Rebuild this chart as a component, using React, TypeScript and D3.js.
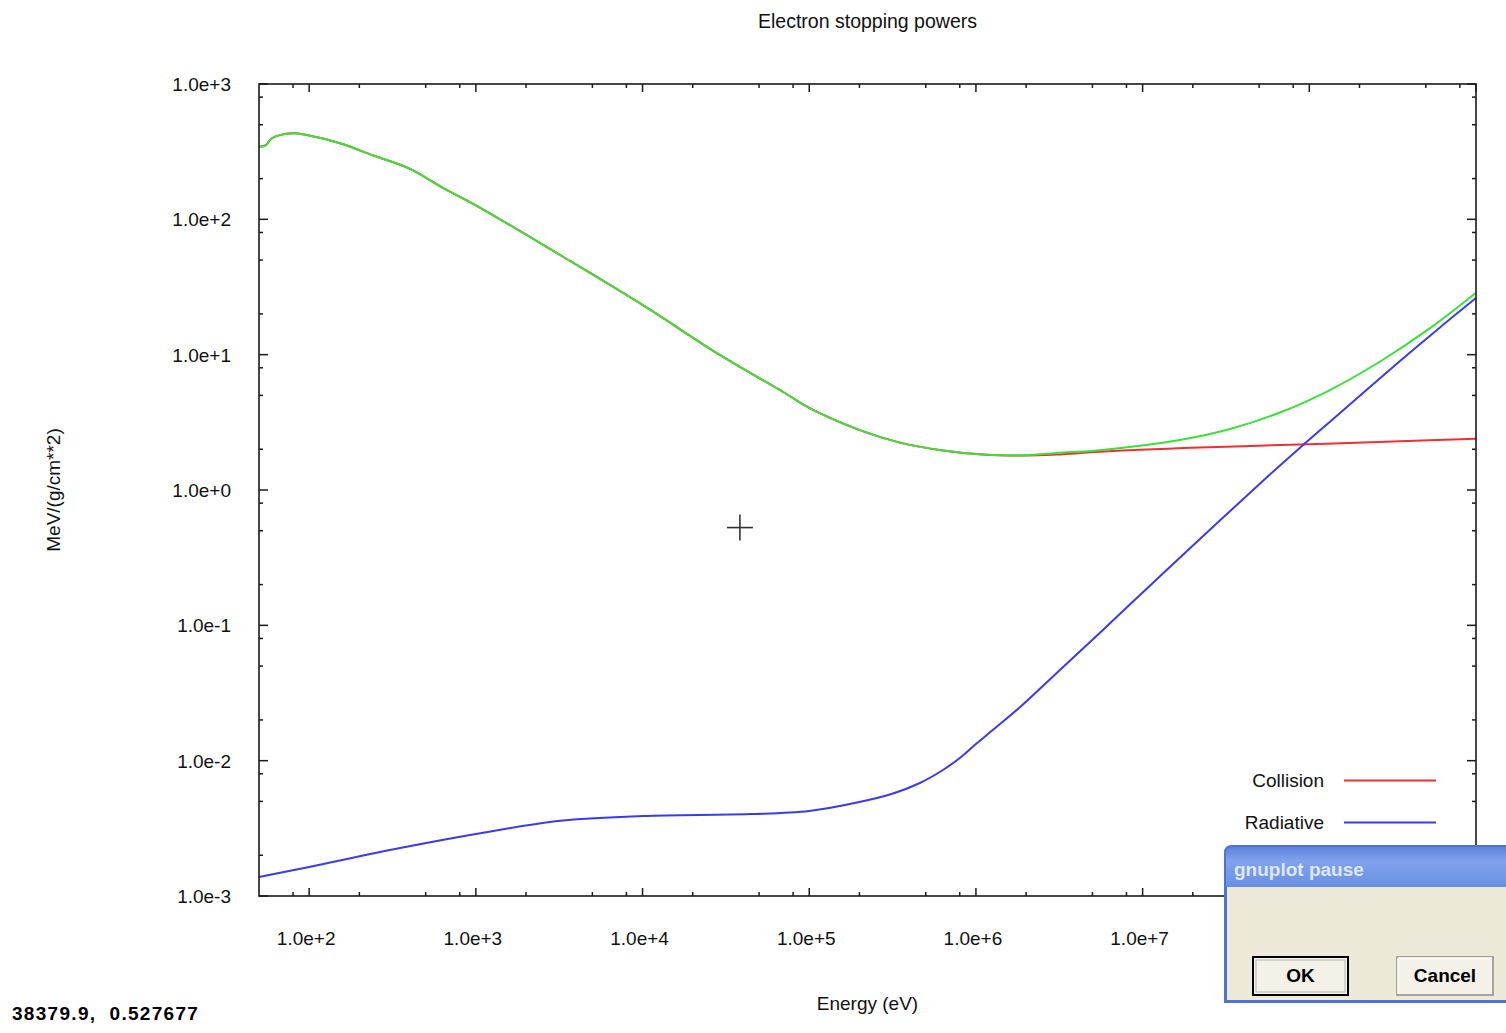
import React from "react";
import * as d3 from "d3";

// values (energy in eV, power in MeV/(g/cm**2))
const totalEnergy = [50, 55.1, 59.6, 80.3, 96.6, 153, 243, 403, 638, 1000, 3200, 1e4, 2.91e4, 7.14e4, 1e5, 2.01e5, 3.5e5, 6.34e5, 1.1e6, 1.84e6, 3.06e6, 5.55e6, 1.67e7, 3.34e7, 6.67e7, 1.33e8, 2.66e8, 5.3e8, 1e9];
const totalPower = [344, 354, 397, 432, 420, 365, 296, 236, 170, 127, 54.5, 23.3, 9.95, 5.21, 4.04, 2.77, 2.24, 1.96, 1.83, 1.8, 1.88, 1.97, 2.34, 2.82, 3.74, 5.48, 8.9, 15.7, 28.7];

const collisionEnergy = [50, 55.1, 59.6, 80.3, 96.6, 153, 243, 403, 638, 1000, 3200, 1e4, 2.91e4, 7.14e4, 1e5, 2.01e5, 3.5e5, 6.34e5, 1.1e6, 1.84e6, 3.06e6, 5.55e6, 2.21e7, 8.79e7, 3.5e8, 1e9];
const collisionPower = [344, 354, 397, 432, 420, 365, 296, 236, 170, 127, 54.5, 23.3, 9.95, 5.21, 4.04, 2.77, 2.24, 1.96, 1.83, 1.8, 1.83, 1.92, 2.06, 2.17, 2.29, 2.39];

const radiativeEnergy = [50, 100, 351, 1000, 3200, 1e4, 4.4e4, 1e5, 2e5, 3.18e5, 4.61e5, 6.34e5, 8e5, 1e6, 1.26e6, 1.84e6, 3.19e6, 5.04e6, 8.05e6, 1.61e7, 5.42e7, 9.03e7, 1.39e8, 3.5e8, 6.08e8, 1e9];
const radiativePower = [1.38e-3, 1.64e-3, 2.26e-3, 2.87e-3, 3.6e-3, 3.9e-3, 4.03e-3, 4.25e-3, 4.95e-3, 5.72e-3, 6.84e-3, 8.53e-3, 0.01047, 0.01327, 0.01683, 0.0249, 0.0468, 0.079, 0.136, 0.303, 1.205, 2.11, 3.35, 8.98, 15.9, 26.2];

const xMajor = [1e2, 1e3, 1e4, 1e5, 1e6, 1e7, 1e8, 1e9];
const xTickLabels = ["1.0e+2", "1.0e+3", "1.0e+4", "1.0e+5", "1.0e+6", "1.0e+7", "1.0e+8", "1.0e+9"];
const yMajor = [1e-3, 1e-2, 1e-1, 1e0, 1e1, 1e2, 1e3];
const yTickLabels = ["1.0e-3", "1.0e-2", "1.0e-1", "1.0e+0", "1.0e+1", "1.0e+2", "1.0e+3"];
const minorMult = [2, 5, 8];

const legendItems = [
  { name: "Collision", color: "#f03030" },
  { name: "Radiative", color: "#3a3af0" },
];

const cursorPos = [38379.9, 0.527677];

const W = 1506;
const H = 1033;
const margin = { left: 259, right: 30, top: 84, bottom: 137 };
const FONT = "'Liberation Sans', Arial, sans-serif";
const FS = 19;

export default function App() {
  const x = d3.scaleLog().domain([50, 1e9]).range([margin.left, W - margin.right]);
  const y = d3.scaleLog().domain([1e-3, 1e3]).range([H - margin.bottom, margin.top]);
  const x0 = margin.left, x1 = W - margin.right, y0 = margin.top, y1 = H - margin.bottom;

  const line = d3
    .line<[number, number]>()
    .x((d) => x(d[0]))
    .y((d) => y(d[1]))
    .curve(d3.curveCatmullRom.alpha(0.5));

  const zip = (a: number[], b: number[]) => a.map((v, i) => [v, b[i]] as [number, number]);

  // minor ticks 2,5,8 per decade
  const xMinor: number[] = [];
  for (let k = 1; k <= 8; k++) minorMult.forEach((m) => {
    const v = m * Math.pow(10, k);
    if (v > 50 && v < 1e9) xMinor.push(v);
  });
  const yMinor: number[] = [];
  for (let k = -3; k <= 2; k++) minorMult.forEach((m) => yMinor.push(m * Math.pow(10, k)));

  const cx = x(cursorPos[0]);
  const cy = y(cursorPos[1]);

  return (
    <svg width={W} height={H} style={{ position: "absolute", left: 0, top: 0, display: "block", background: "#fff" }}>
      <defs>
        <linearGradient id="titlebar" x1="0" y1="0" x2="0" y2="1">
          <stop offset="0" stopColor="#5f82dc" />
          <stop offset="0.35" stopColor="#7fa3ec" />
          <stop offset="1" stopColor="#6a8fe2" />
        </linearGradient>
      </defs>

      <text x={(x0 + x1) / 2} y={28} textAnchor="middle" fontFamily={FONT} fontSize={19.5} fill="#111">
        Electron stopping powers
      </text>

      {/* curves */}
      <path d={line(zip(collisionEnergy, collisionPower)) || ""} fill="none" stroke="#f03030" strokeWidth={2} />
      <path d={line(zip(radiativeEnergy, radiativePower)) || ""} fill="none" stroke="#3a3af0" strokeWidth={2} />
      <path d={line(zip(totalEnergy, totalPower)) || ""} fill="none" stroke="#3ce03c" strokeWidth={2} />

      {/* frame */}
      <rect x={x0} y={y0} width={x1 - x0} height={y1 - y0} fill="none" stroke="#1a1a1a" strokeWidth={1.6} />

      {/* ticks, mirrored on all four sides */}
      <g stroke="#1a1a1a" strokeWidth={1.5}>
        {xMajor.map((v) => (
          <g key={"xm" + v}>
            <line x1={x(v)} x2={x(v)} y1={y1} y2={y1 - 8} />
            <line x1={x(v)} x2={x(v)} y1={y0} y2={y0 + 8} />
          </g>
        ))}
        {xMinor.map((v) => (
          <g key={"xn" + v}>
            <line x1={x(v)} x2={x(v)} y1={y1} y2={y1 - 4} />
            <line x1={x(v)} x2={x(v)} y1={y0} y2={y0 + 4} />
          </g>
        ))}
        {yMajor.map((v) => (
          <g key={"ym" + v}>
            <line x1={x0} x2={x0 + 9} y1={y(v)} y2={y(v)} />
            <line x1={x1} x2={x1 - 9} y1={y(v)} y2={y(v)} />
          </g>
        ))}
        {yMinor.map((v) => (
          <g key={"yn" + v}>
            <line x1={x0} x2={x0 + 4} y1={y(v)} y2={y(v)} />
            <line x1={x1} x2={x1 - 4} y1={y(v)} y2={y(v)} />
          </g>
        ))}
      </g>

      <g fontFamily={FONT} fontSize={FS} fill="#111">
        {xMajor.map((v, i) => (
          <text key={"xl" + v} x={x(v) - 3} y={945} textAnchor="middle">
            {xTickLabels[i]}
          </text>
        ))}
        {yMajor.map((v, i) => (
          <text key={"yl" + v} x={231} y={y(v) + 7} textAnchor="end">
            {yTickLabels[i]}
          </text>
        ))}
        <text x={(x0 + x1) / 2} y={1010} textAnchor="middle">Energy (eV)</text>
        <text transform="translate(60,490) rotate(-90)" textAnchor="middle">MeV/(g/cm**2)</text>
      </g>

      {/* legend */}
      <g fontFamily={FONT} fontSize={FS} fill="#111">
        {legendItems.map((d, i) => (
          <g key={d.name}>
            <text x={1324} y={787 + i * 42} textAnchor="end">{d.name}</text>
            <line x1={1344} x2={1436} y1={780.5 + i * 42} y2={780.5 + i * 42} stroke={d.color} strokeWidth={2} />
          </g>
        ))}
      </g>

      {/* mouse crosshair */}
      <g stroke="#333" strokeWidth={1.6}>
        <line x1={cx - 13} x2={cx + 13} y1={cy} y2={cy} />
        <line x1={cx} x2={cx} y1={cy - 13} y2={cy + 13} />
      </g>

      <text x={12} y={1020} fontFamily={FONT} fontWeight="bold" fontSize={19} letterSpacing={1.3} fill="#000" style={{ whiteSpace: "pre" }}>
        {`${cursorPos[0]},  ${cursorPos[1]}`}
      </text>

      {/* gnuplot pause dialog */}
      <g>
        <path d="M1224,1003 L1224,853 Q1224,845 1232,845 L1530,845 L1530,1003 Z" fill="#4f72d8" />
        <path d="M1226,887 L1226,853 Q1226,847 1233,847 L1530,847 L1530,887 Z" fill="url(#titlebar)" />
        <rect x={1227} y={887} width={303} height={113} fill="#ece9d8" />
        <text x={1234} y={876} fontFamily={FONT} fontWeight="bold" fontSize={19} fill="#dfe8fa">gnuplot pause</text>

        <rect x={1253} y={957} width={95} height={38} fill="#f3f1e8" stroke="#000" strokeWidth={2} />
        <rect x={1256} y={960} width={89} height={32} fill="none" stroke="#b9b6a6" strokeWidth={1} />
        <text x={1300.5} y={982} textAnchor="middle" fontFamily={FONT} fontWeight="bold" fontSize={19} fill="#000">OK</text>

        <rect x={1397} y={957} width={96} height={38} fill="#f3f1e8" stroke="#8f8d80" strokeWidth={1.5} />
        <line x1={1398} x2={1492} y1={958} y2={958} stroke="#fff" strokeWidth={1.5} />
        <line x1={1398} x2={1398} y1={958} y2={994} stroke="#fff" strokeWidth={1.5} />
        <text x={1445} y={982} textAnchor="middle" fontFamily={FONT} fontWeight="bold" fontSize={19} fill="#000">Cancel</text>
      </g>
    </svg>
  );
}
